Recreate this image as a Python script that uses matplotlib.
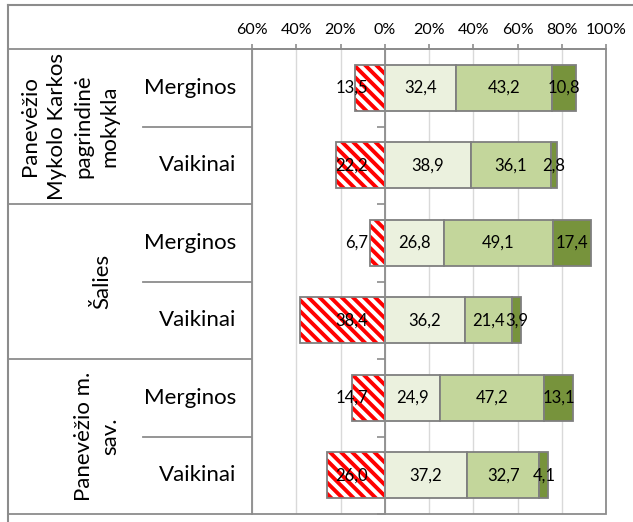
import matplotlib
matplotlib.use('Agg')
import matplotlib.pyplot as plt
import matplotlib.transforms as mtransforms
from matplotlib.patches import Rectangle
import numpy as np

plt.rcParams['font.family'] = ['Lato', 'DejaVu Sans']
plt.rcParams['hatch.linewidth'] = 2.8

# ---- data ----
groups = ["Panevėžio\nMykolo Karkos\npagrindinė\nmokykla", "Šalies", "Panevėžio m.\nsav."]
subgroups = ["Merginos", "Vaikinai"]
neg_vals = [13.5, 22.2, 6.7, 38.4, 14.7, 26.0]
s1_vals = [32.4, 38.9, 26.8, 36.2, 24.9, 37.2]
s2_vals = [43.2, 36.1, 49.1, 21.4, 47.2, 32.7]
s3_vals = [10.8, 2.8, 17.4, 3.9, 13.1, 4.1]
tick_vals = [-60, -40, -20, 0, 20, 40, 60, 80, 100]
tick_labels = ["60%", "40%", "20%", "0%", "20%", "40%", "60%", "80%", "100%"]

# ---- style ----
C1, C2, C3 = '#EBF1DE', '#C3D69B', '#77933C'
EDGE = '#7F7F7F'
LINE = '#8C8C8C'

W, H = 633, 522
fig = plt.figure(figsize=(W / 100, H / 100), dpi=100)
ax = fig.add_axes([252 / W, 1 - 514 / H, (606 - 252) / W, (514 - 49) / H])
ov = fig.add_axes([0, 0, 1, 1], zorder=-1)
ov.set_xlim(0, W)
ov.set_ylim(H, 0)
ov.axis('off')

n = len(neg_vals)
y = np.arange(n)
h = 0.59
neg = -np.array(neg_vals)
s1 = np.array(s1_vals)
s2 = np.array(s2_vals)
s3 = np.array(s3_vals)

# negative hatched bars
ax.barh(y, neg, height=h, color='white', edgecolor='#FF0000', linewidth=0,
        hatch='\\\\\\', zorder=2)
ax.barh(y, neg, height=h, fill=False, edgecolor=EDGE, linewidth=1.3, zorder=3)
# positive stacked bars
ax.barh(y, s1, height=h, color=C1, edgecolor=EDGE, linewidth=1.3, zorder=3)
ax.barh(y, s2, left=s1, height=h, color=C2, edgecolor=EDGE, linewidth=1.3, zorder=3)
ax.barh(y, s3, left=s1 + s2, height=h, color=C3, edgecolor=EDGE, linewidth=1.3, zorder=3)

def fmt(v):
    return f"{v:.1f}".replace('.', ',')

fs_lab = 12
for i in range(n):
    ax.text(-7.6, y[i], fmt(neg_vals[i]), ha='right', va='center', fontsize=fs_lab, zorder=5)
    ax.text(s1[i] / 2, y[i], fmt(s1_vals[i]), ha='center', va='center', fontsize=fs_lab, zorder=5)
    ax.text(s1[i] + s2[i] / 2, y[i], fmt(s2_vals[i]), ha='center', va='center', fontsize=fs_lab, zorder=5)
    ax.text(s1[i] + s2[i] + s3[i] / 2, y[i], fmt(s3_vals[i]), ha='center', va='center', fontsize=fs_lab, zorder=5)

ax.set_xlim(-60, 100)
ax.set_ylim(n - 0.5, -0.5)
ax.xaxis.tick_top()
ax.set_xticks(tick_vals)
ax.set_xticklabels(tick_labels)
ax.tick_params(axis='x', direction='out', length=3.6, color=LINE, labelsize=11.5, pad=5, width=1.2)
ax.set_yticks(np.arange(-0.5, n, 1.0))
ax.set_yticklabels([])
ax.tick_params(axis='y', direction='out', length=5.5, color=LINE, width=1.2)
ax.grid(axis='x', color='#D9D9D9', linewidth=1.0, zorder=0)
ax.set_axisbelow(True)
for s in ['bottom', 'right']:
    ax.spines[s].set_visible(False)
ax.spines['left'].set_position(('data', 0))
ax.spines['left'].set_color(LINE)
ax.spines['left'].set_linewidth(1.3)
ax.spines['left'].set_zorder(4)
ax.spines['top'].set_color(LINE)
ax.spines['top'].set_linewidth(1.3)
ax.add_patch(Rectangle((0, 0), 1, 1, transform=ax.transAxes, fill=False,
                       edgecolor=LINE, linewidth=1.3, clip_on=False, zorder=1))

# table part on the left
trans = mtransforms.blended_transform_factory(ov.transData, ax.transData)
for yb in [-0.5, 1.5, 3.5, 5.5]:
    ov.plot([7.5, 252], [yb, yb], transform=trans, color=LINE, linewidth=1.3, clip_on=False)
for yb in [0.5, 2.5, 4.5]:
    ov.plot([143, 252], [yb, yb], transform=trans, color=LINE, linewidth=1.3, clip_on=False)
ov.plot([7.5, 7.5], [5, H], color=LINE, linewidth=1.5, clip_on=False)
ov.plot([7.5, W], [5, 5], color=LINE, linewidth=1.5, clip_on=False)

group_x = [70, 102, 97]
for g, label in enumerate(groups):
    ov.text(group_x[g], 2 * g + 0.5, label, transform=trans, rotation=90,
            ha='center', va='center', multialignment='center', fontsize=16,
            linespacing=1.4)
for i in range(n):
    ov.text(236, y[i], subgroups[i % 2], transform=trans, ha='right', va='center', fontsize=16)

fig.savefig('out.png', dpi=100)
